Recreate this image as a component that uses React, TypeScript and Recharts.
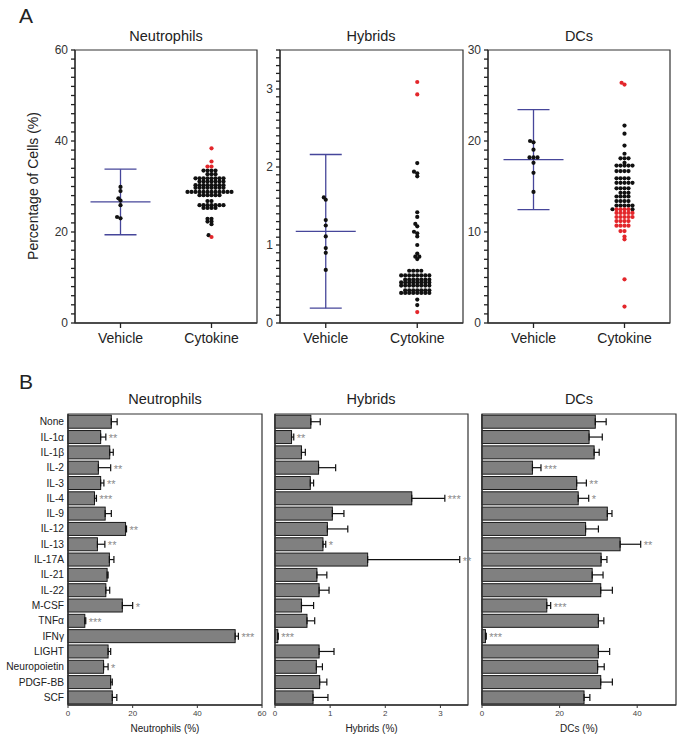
import React from 'react';
import {
  ScatterChart,
  Scatter,
  BarChart,
  Bar,
  XAxis,
  YAxis,
  ErrorBar,
  ReferenceArea,
} from 'recharts';

const FONT = '"Liberation Sans", Arial, Helvetica, sans-serif';
const AXIS = '#333';
const SD_BLUE = '#46469a';
const DOT_BLACK = '#111';
const DOT_RED = '#e3262b';

// ---------- Panel A: percentage of cells per animal ----------
const groups = ['Vehicle', 'Cytokine'];

const neuVehicle = [29.9, 29.0, 27.4, 26.9, 25.9, 23.3, 23.0];
const neuVehicleMeanSd = [26.6, 7.2];
const neuCytokine = [
  33.5, 33.5, 33.5, 33.5,
  32.7, 32.7, 32.7,
  31.8, 31.8, 31.8, 31.8, 31.8, 31.8, 31.8, 31.8,
  31.1, 31.1, 31.1, 31.1, 31.1, 31.1, 31.1,
  30.3, 30.3, 30.3, 30.3, 30.3, 30.3, 30.3, 30.3,
  29.7, 29.7, 29.7, 29.7, 29.7, 29.7, 29.7, 29.7,
  28.8, 28.8, 28.8, 28.8, 28.8, 28.8, 28.8, 28.8, 28.8, 28.8, 28.8, 28.8,
  28.1, 28.1, 28.1, 28.1, 28.1, 28.1,
  26.8, 26.8,
  25.9, 25.9, 25.9, 25.9, 25.9, 25.9, 25.9,
  25.3, 25.3, 25.3, 25.3,
  22.9, 22.9, 22.3, 22.3, 21.7,
  19.3,
];
const neuCytokineRed = [38.4, 35.5, 34.4, 34.4, 18.9];

const hybVehicle = [1.61, 1.58, 1.32, 1.25, 1.11, 0.96, 0.9, 0.68];
const hybVehicleMeanSd = [1.175, 0.985];
const hybCytokine = [
  2.05, 1.94, 1.92, 1.88,
  1.42, 1.36, 1.27, 1.24, 1.17, 1.15, 1.11, 1.0,
  0.89, 0.85, 0.85, 0.82,
  0.67, 0.67, 0.67, 0.67,
  0.61, 0.61, 0.61, 0.61, 0.61, 0.61, 0.61, 0.61,
  0.555, 0.555, 0.555, 0.555, 0.555, 0.555, 0.555,
  0.52, 0.52, 0.52, 0.52, 0.52, 0.52, 0.52, 0.52,
  0.48, 0.48, 0.48, 0.48, 0.48, 0.48, 0.48, 0.48,
  0.42, 0.42, 0.42, 0.42, 0.42, 0.42, 0.42,
  0.385, 0.385, 0.385, 0.385, 0.385, 0.385, 0.385, 0.385,
  0.3, 0.23,
];
const hybCytokineRed = [3.09, 2.93, 0.14];

const dcVehicle = [20.0, 19.85, 19.05, 18.2, 18.2, 18.2, 17.6, 16.5, 14.4];
const dcVehicleMeanSd = [17.95, 5.5];
const dcCytokine = [
  21.7, 20.8, 19.5, 18.6,
  18.1, 18.1, 18.1,
  17.6,
  17.3, 17.3, 17.3, 17.3, 17.3,
  16.7, 16.7, 16.7, 16.7,
  15.9, 15.9, 15.9, 15.9,
  15.4, 15.4, 15.4, 15.4, 15.4,
  14.8, 14.8, 14.8, 14.8,
  14.3, 14.3, 14.3,
  13.9, 13.9, 13.9, 13.9,
  13.4, 13.4, 13.4, 13.4,
  12.9, 12.9, 12.9, 12.9, 12.9,
  12.5, 12.5,
];
const dcCytokineRed = [
  26.4, 26.2,
  12.5, 12.5, 12.5, 12.5,
  12.1, 12.1, 12.1, 12.1, 12.1,
  11.65, 11.65, 11.65, 11.65, 11.65,
  11.2, 11.2, 11.2, 11.2,
  10.7, 10.7, 10.7, 10.7,
  10.1, 10.1, 9.5, 9.2,
  4.8, 1.8,
];

// ---------- Panel B: cytokine screen ----------
const cytokines = [
  'None', 'IL-1α', 'IL-1β', 'IL-2', 'IL-3', 'IL-4', 'IL-9', 'IL-12', 'IL-13', 'IL-17A',
  'IL-21', 'IL-22', 'M-CSF', 'TNFα', 'IFNγ', 'LIGHT', 'Neuropoietin', 'PDGF-BB', 'SCF',
];

const neuMeans = [13.4, 10.1, 12.9, 9.4, 10.1, 8.2, 11.5, 17.8, 9.1, 12.8, 12.1, 11.7, 16.8, 5.2, 51.7, 12.4, 11.0, 13.2, 13.7];
const neuErrs = [1.8, 1.6, 1.1, 3.8, 1.0, 0.6, 1.9, 0.3, 2.3, 1.4, 0.3, 1.2, 3.2, 0.3, 1.0, 0.8, 1.4, 0.5, 1.4];
const neuStars = ['', '**', '', '**', '**', '***', '', '**', '**', '', '', '', '*', '***', '***', '', '*', '', ''];

const hybMeans = [0.65, 0.3, 0.48, 0.79, 0.64, 2.48, 1.04, 0.95, 0.87, 1.68, 0.76, 0.8, 0.48, 0.58, 0.05, 0.8, 0.75, 0.81, 0.69];
const hybErrs = [0.17, 0.04, 0.07, 0.31, 0.06, 0.6, 0.21, 0.37, 0.05, 1.67, 0.18, 0.18, 0.22, 0.14, 0.01, 0.27, 0.11, 0.13, 0.27];
const hybStars = ['', '**', '', '', '', '***', '', '', '*', '**', '', '', '', '', '***', '', '', '', ''];

const dcMeans = [29.2, 27.6, 28.9, 13.0, 24.4, 24.8, 32.3, 26.7, 35.6, 30.7, 28.4, 30.6, 16.7, 30.0, 0.9, 30.0, 29.8, 30.6, 26.3];
const dcErrs = [2.8, 3.4, 1.3, 2.2, 2.5, 2.7, 1.2, 3.3, 5.3, 1.5, 2.8, 3.0, 1.0, 1.4, 0.2, 2.9, 1.7, 3.0, 1.5];
const dcStars = ['', '', '', '***', '**', '*', '', '', '**', '', '', '', '***', '', '***', '', '', '', ''];

// plot area of the dot plots, in px
const PLOT_W = 182;
const PLOT_H = 273;
const DOT_R = 2.1;
const DOT_GAP = 4.0; // centre to centre within a row
const ROW_SQUASH = 1.5; // rows this close vertically don't push each other sideways

type Dot = { x: number; y: number; red: boolean };

// beeswarm: each dot takes the free x offset closest to the group centre
function beeswarm(black: number[], red: number[], center: number, yMax: number): Dot[] {
  const pxPerY = PLOT_H / yMax;
  const pxPerX = PLOT_W / 2;
  const d = DOT_GAP;
  const pts = [...red.map(v => ({ v, red: true })), ...black.map(v => ({ v, red: false }))]
    .sort((a, b) => a.v - b.v);
  const placed: { dx: number; py: number }[] = [];
  return pts.map(p => {
    const py = p.v * pxPerY;
    const blocked: [number, number][] = [];
    placed.forEach(q => {
      const dy = Math.abs(py - q.py) * ROW_SQUASH;
      if (dy < d) {
        const w = Math.sqrt(d * d - dy * dy);
        blocked.push([q.dx - w, q.dx + w]);
      }
    });
    const cands = [0];
    blocked.forEach(([a, b]) => cands.push(a, b));
    cands.sort((a, b) => Math.abs(a) - Math.abs(b));
    const dx = cands.find(c => blocked.every(([a, b]) => c <= a + 1e-6 || c >= b - 1e-6)) ?? 0;
    placed.push({ dx, py });
    return { x: center + dx / pxPerX, y: p.v, red: p.red };
  });
}

// the axis draws a tick line for every step, only the majors get a number
const SwarmTick = (props: any) => {
  const { x, y, payload, majors } = props;
  const v = payload.value;
  const major = majors.some((m: number) => Math.abs(m - v) < 1e-6);
  if (!major) return <g />;
  return (
    <text x={x} y={y} dy={4} textAnchor="end" fontSize={12} fill="#333" fontFamily={FONT}>
      {v}
    </text>
  );
};

const MeanLine = (props: any) => (
  <line x1={props.cx - 30} x2={props.cx + 30} y1={props.cy} y2={props.cy} stroke={SD_BLUE} strokeWidth={1.3} />
);

const BlackDot = (props: any) => <circle cx={props.cx} cy={props.cy} r={DOT_R} fill={DOT_BLACK} />;
const RedDot = (props: any) => <circle cx={props.cx} cy={props.cy} r={DOT_R} fill={DOT_RED} />;

interface SwarmProps {
  left: number;
  width: number;
  axisWidth: number;
  marginLeft: number;
  yMax: number;
  step: number;
  majors: number[];
  vehicle: number[];
  cytoBlack: number[];
  cytoRed: number[];
  meanSd: number[];
}

function SwarmPanel({ left, width, axisWidth, marginLeft, yMax, step, majors, vehicle, cytoBlack, cytoRed, meanSd }: SwarmProps) {
  const ticks: number[] = [];
  for (let i = 0; i * step <= yMax + 1e-9; i++) ticks.push(+(i * step).toFixed(2));
  const vehDots = beeswarm(vehicle, [], 1, yMax);
  const cytDots = beeswarm(cytoBlack, cytoRed, 2, yMax);
  const blackDots = [...vehDots, ...cytDots.filter(p => !p.red)];
  const redDots = cytDots.filter(p => p.red);
  const mean = [{ x: 1, y: meanSd[0], sd: meanSd[1] }];

  return (
    <div style={{ position: 'absolute', left, top: 0 }}>
      <ScatterChart width={width} height={360} margin={{ top: 50, right: 5, bottom: 7, left: marginLeft }}>
        <XAxis
          type="number"
          dataKey="x"
          domain={[0.5, 2.5]}
          ticks={[1, 2]}
          interval={0}
          tickFormatter={(v: number) => groups[v - 1]}
          height={30}
          tickSize={5}
          tickMargin={5}
          tick={{ fontSize: 14, fill: '#222', fontFamily: FONT }}
          tickLine={{ stroke: '#222', strokeWidth: 1.3 }}
          axisLine={{ stroke: AXIS, strokeWidth: 1.3 }}
        />
        <YAxis
          type="number"
          dataKey="y"
          domain={[0, yMax]}
          ticks={ticks}
          interval={0}
          width={axisWidth}
          tickSize={4}
          tickMargin={3}
          tickLine={{ stroke: '#222', strokeWidth: 1.3 }}
          tick={<SwarmTick majors={majors} />}
          axisLine={{ stroke: AXIS, strokeWidth: 1.3 }}
        />
        <ReferenceArea x1={0.5} x2={2.5} y1={0} y2={yMax} fill="none" stroke={AXIS} strokeWidth={1.2} />
        <Scatter data={mean} shape={MeanLine} isAnimationActive={false}>
          <ErrorBar dataKey="sd" direction="y" width={16} stroke={SD_BLUE} strokeWidth={1.3} />
        </Scatter>
        <Scatter data={blackDots} shape={BlackDot} isAnimationActive={false} />
        <Scatter data={redDots} shape={RedDot} isAnimationActive={false} />
      </ScatterChart>
    </div>
  );
}

const StarBar = (props: any) => {
  const { x, y, width, height, payload } = props;
  const errPx = payload.value > 0 ? (payload.err / payload.value) * width : 0;
  return (
    <g>
      <rect x={x} y={y} width={width} height={height} fill="#808080" stroke="#1a1a1a" strokeWidth={1} />
      {payload.stars && (
        <text x={x + width + errPx + 3} y={y + height / 2 + 5} fontSize={11} fill="#8a8a8a" fontFamily={FONT}>
          {payload.stars}
        </text>
      )}
    </g>
  );
};

interface BarProps {
  left: number;
  width: number;
  axisWidth: number;
  max: number;
  ticks: number[];
  means: number[];
  errs: number[];
  stars: string[];
  showNames: boolean;
  xLabel: string;
}

function BarPanel({ left, width, axisWidth, max, ticks, means, errs, stars, showNames, xLabel }: BarProps) {
  const rows = cytokines.map((name, i) => ({
    name,
    value: means[i],
    err: errs[i],
    errRange: [0, errs[i]],
    stars: stars[i],
  }));
  return (
    <div style={{ position: 'absolute', left, top: 380 }}>
      <BarChart
        layout="vertical"
        width={width}
        height={360}
        data={rows}
        margin={{ top: 34, right: 5, bottom: 5, left: 0 }}
        barCategoryGap="8%"
      >
        <XAxis
          type="number"
          domain={[0, max]}
          ticks={ticks}
          interval={0}
          height={30}
          tickSize={3}
          tickMargin={2}
          tick={{ fontSize: 8, fill: '#444', fontFamily: FONT }}
          tickLine={{ stroke: AXIS }}
          axisLine={{ stroke: AXIS, strokeWidth: 1.3 }}
          label={{ value: xLabel, position: 'insideBottom', offset: 3, fontSize: 10, fill: '#222', fontFamily: FONT }}
        />
        <YAxis
          type="category"
          dataKey="name"
          width={axisWidth}
          interval={0}
          tickSize={0}
          tickMargin={4}
          tickLine={false}
          tick={showNames ? { fontSize: 10.2, fill: '#222', fontFamily: FONT } : false}
          axisLine={{ stroke: AXIS, strokeWidth: 1.3 }}
        />
        <ReferenceArea x1={0} x2={max} fill="none" stroke={AXIS} strokeWidth={1.2} />
        <Bar dataKey="value" shape={StarBar} isAnimationActive={false}>
          <ErrorBar dataKey="errRange" direction="x" width={3.5} stroke="#111" strokeWidth={1.2} />
        </Bar>
      </BarChart>
    </div>
  );
}

const textBase: React.CSSProperties = {
  position: 'absolute',
  fontFamily: FONT,
  color: '#222',
  whiteSpace: 'nowrap',
  transform: 'translate(-50%, -50%)',
  lineHeight: 1,
};

export default function App() {
  return (
    <div style={{ position: 'absolute', left: 0, top: 0, width: 683, height: 740, background: '#fff', fontFamily: FONT }}>
      <div style={{ ...textBase, left: 26, top: 15, fontSize: 21 }}>A</div>
      <div style={{ ...textBase, left: 26, top: 381, fontSize: 21 }}>B</div>

      <div style={{ ...textBase, left: 166, top: 36, fontSize: 14.5 }}>Neutrophils</div>
      <div style={{ ...textBase, left: 371, top: 36, fontSize: 14.5 }}>Hybrids</div>
      <div style={{ ...textBase, left: 579, top: 36, fontSize: 14.5 }}>DCs</div>
      <div style={{ ...textBase, left: 33, top: 186, fontSize: 14, transform: 'translate(-50%, -50%) rotate(-90deg)' }}>
        Percentage of Cells (%)
      </div>

      <SwarmPanel left={0} width={262} axisWidth={40} marginLeft={35} yMax={60} step={2} majors={[0, 20, 40, 60]}
        vehicle={neuVehicle} cytoBlack={neuCytokine} cytoRed={neuCytokineRed} meanSd={neuVehicleMeanSd} />
      <SwarmPanel left={245} width={223} axisWidth={30} marginLeft={5} yMax={3.5} step={0.1} majors={[0, 1, 2, 3]}
        vehicle={hybVehicle} cytoBlack={hybCytokine} cytoRed={hybCytokineRed} meanSd={hybVehicleMeanSd} />
      <SwarmPanel left={453} width={222} axisWidth={30} marginLeft={5} yMax={30} step={1} majors={[0, 10, 20, 30]}
        vehicle={dcVehicle} cytoBlack={dcCytokine} cytoRed={dcCytokineRed} meanSd={dcVehicleMeanSd} />

      <div style={{ ...textBase, left: 165, top: 399, fontSize: 14.5 }}>Neutrophils</div>
      <div style={{ ...textBase, left: 371, top: 399, fontSize: 14.5 }}>Hybrids</div>
      <div style={{ ...textBase, left: 579, top: 399, fontSize: 14.5 }}>DCs</div>

      <BarPanel left={0} width={267} axisWidth={68} max={60} ticks={[0, 20, 40, 60]}
        means={neuMeans} errs={neuErrs} stars={neuStars} showNames xLabel="Neutrophils (%)" />
      <BarPanel left={270} width={203} axisWidth={5} max={3.5} ticks={[0, 1, 2, 3]}
        means={hybMeans} errs={hybErrs} stars={hybStars} showNames={false} xLabel="Hybrids (%)" />
      <BarPanel left={477} width={204} axisWidth={5} max={50} ticks={[0, 20, 40]}
        means={dcMeans} errs={dcErrs} stars={dcStars} showNames={false} xLabel="DCs (%)" />
    </div>
  );
}
